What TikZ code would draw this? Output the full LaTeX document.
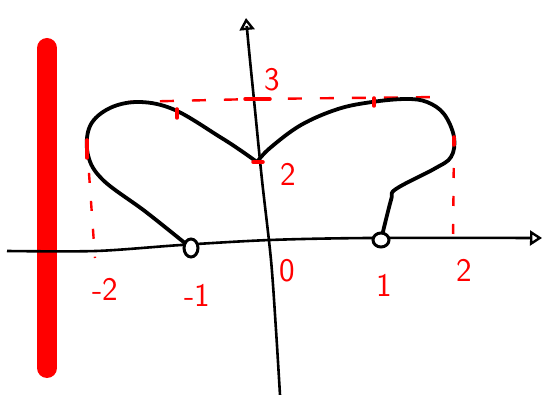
\documentclass[tikz,border=0pt]{standalone}
\usepackage{fontspec}
\usetikzlibrary{arrows.meta}
\begin{document}
\begin{tikzpicture}[x=1pt,y=-1pt,
  axis/.style={line width=2.6pt,-{Triangle[open,length=12pt,width=15pt,line width=2.4pt]}},
  graph/.style={line width=3.8pt,line cap=round,line join=round},
  guide/.style={red,line width=2.4pt,dash pattern=on 10pt off 18pt},
  tick/.style={red,line width=3.5pt,line cap=round},
  lbl/.style={red,font=\fontsize{33}{35}\selectfont\sffamily}]
  \useasboundingbox (0,0) rectangle (557,395);
  \coordinate (P) at (191,248); \coordinate (Q) at (381,240); \coordinate (T) at (257,162);
  \coordinate (L) at (87,145); \coordinate (R) at (454,140);
  % red bar
  \draw[red,line width=20pt,line cap=round] (47,48) -- (47,368);
  % axes
  \draw[axis] plot[smooth] coordinates {(7,251) (96,251) (181,245) (270,240) (369,238) (542,238)};
  \draw[axis] plot[smooth] coordinates {(280,395) (276,330) (271,260) (262,180) (255,110) (249,50) (246,18)};
  % guides
  \draw[guide,dash pattern=on 14pt off 18pt] (128,102) -- (255,99) -- (440,97);
  \draw[guide] (L) -- (95,258);
  \draw[guide] (R) -- (453,245);
  % graph
  \draw[graph] plot[smooth,tension=0.6] coordinates {(P) (146,212) (103,180) (88,155) (90,126) (110,108) (140,102) (175,110) (220,137) (240,150) (T)};
  \draw[graph] plot[smooth,tension=0.6] coordinates {(T) (270,148) (301,125) (338,109) (372,102) (406,99) (427,102) (444,114) (454,137) (451,157) (434,169) (396,189) (391,200) (Q)};
  \draw[line width=3pt,fill=white] (P) ellipse[x radius=7,y radius=9];
  \draw[line width=3pt,fill=white] (Q) ellipse[x radius=8,y radius=7];
  % ticks
  \draw[tick] (245,99) -- (270,99);
  \draw[tick] (253,162) -- (263,162);
  \draw[tick] (177,109) -- (177,118);
  \draw[tick] (374,98) -- (374,106);
  \draw[tick] (87,140) -- (87,158);
  \draw[tick] (454,137) -- (454,145);
  % labels
  \foreach \t/\p/\n in {3/{(272,80)}/three,2/{(288,174)}/two,-2/{(105,289)}/mtwo,-1/{(197,295)}/mone,0/{(287,271)}/zero,1/{(384,285)}/one,2/{(464,270)}/xtwo}
    \node[lbl] (\n) at \p {\t};
\end{tikzpicture}
\end{document}
